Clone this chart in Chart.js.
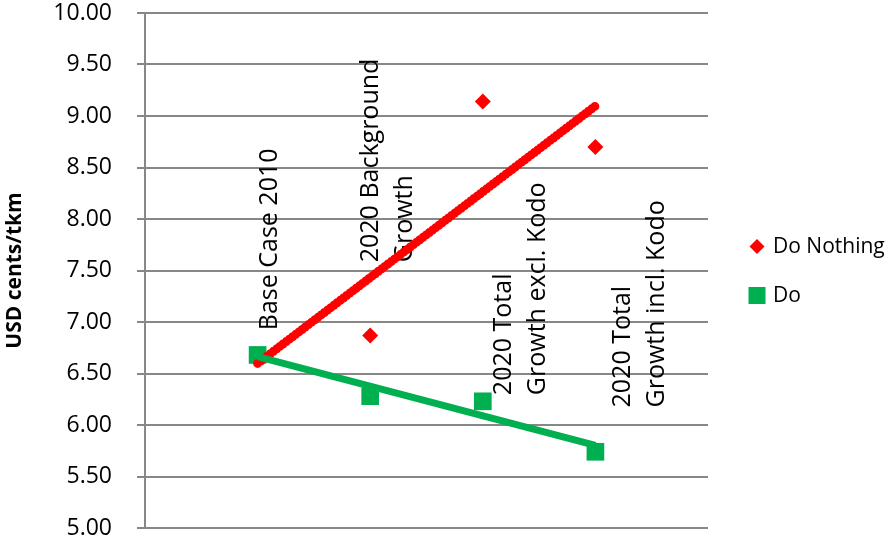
<!DOCTYPE html>
<html>
<head>
<meta charset="utf-8">
<script src="https://cdn.jsdelivr.net/npm/chart.js@4.4.0/dist/chart.umd.min.js"></script>
<style>
  html, body { margin: 0; padding: 0; background: #fff; }
  #wrap { width: 890px; height: 543px; }
</style>
</head>
<body>
<div id="wrap"><canvas id="costChart" width="890" height="543"></canvas></div>
<script>
// Scenario positions along x and their captions
const scenarioX = [1, 2, 3, 4];
const scenarioNames = [
    ['Base Case 2010'],
    ['2020 Background', 'Growth'],
    ['2020 Total', 'Growth excl. Kodo'],
    ['2020 Total', 'Growth incl. Kodo']
];
// where each caption starts (x / y in axis units)
const captionX = [1.17, 2.07, 3.25, 4.31];
const captionY = [6.92, 7.58, 6.29, 6.17];

// Cost per tonne-km, USD cents
const doNothing = [6.68, 6.87, 9.14, 8.70];
const doProject = [6.68, 6.28, 6.23, 5.74];

const yMin = 5, yMax = 10, yStep = 0.5;

const RED = '#ff0000';
const GREEN = '#00b050';
const GRID = '#878787';
const FONT = "'Open Sans', 'Noto Sans', sans-serif";

// least squares fit, returned as two end points
function trend(xs, ys) {
    const n = xs.length;
    const mx = xs.reduce((a, b) => a + b, 0) / n;
    const my = ys.reduce((a, b) => a + b, 0) / n;
    let sxy = 0, sxx = 0;
    xs.forEach((x, i) => { sxy += (x - mx) * (ys[i] - my); sxx += (x - mx) * (x - mx); });
    const slope = sxy / sxx;
    const x0 = xs[0], x1 = xs[n - 1];
    return [
        { x: x0, y: my + slope * (x0 - mx) },
        { x: x1, y: my + slope * (x1 - mx) }
    ];
}

const toPoints = ys => ys.map((y, i) => ({ x: scenarioX[i], y }));

// rotated scenario captions, drawn under the series
const captionPlugin = {
    id: 'captions',
    beforeDatasetsDraw(chart) {
        const { ctx, scales: { x, y } } = chart;
        ctx.save();
        ctx.font = '25px ' + FONT;
        ctx.fillStyle = '#000';
        ctx.textAlign = 'left';
        ctx.textBaseline = 'alphabetic';
        scenarioNames.forEach((lines, i) => {
            const px = x.getPixelForValue(captionX[i]);
            const py = y.getPixelForValue(captionY[i]);
            lines.forEach((line, j) => {
                ctx.save();
                ctx.translate(px + j * 34, py);
                ctx.rotate(-Math.PI / 2);
                ctx.fillText(line, 0, 0);
                ctx.restore();
            });
        });
        ctx.restore();
    }
};

// legend at the right of the plot
const legendPlugin = {
    id: 'sideLegend',
    afterDraw(chart) {
        const { ctx, chartArea } = chart;
        const items = [
            { text: 'Do Nothing', style: 'diamond', color: RED },
            { text: 'Do', style: 'square', color: GREEN }
        ];
        const mid = (chartArea.top + chartArea.bottom) / 2;
        const left = chartArea.right + 49;
        ctx.save();
        ctx.font = '21px ' + FONT;
        ctx.textBaseline = 'middle';
        items.forEach((it, i) => {
            const cy = mid - 24 + i * 49;
            const cx = left;
            ctx.fillStyle = it.color;
            ctx.beginPath();
            if (it.style === 'diamond') {
                ctx.moveTo(cx, cy - 7.5);
                ctx.lineTo(cx + 7.5, cy);
                ctx.lineTo(cx, cy + 7.5);
                ctx.lineTo(cx - 7.5, cy);
                ctx.closePath();
            } else {
                ctx.rect(cx - 8.5, cy - 8.5, 17, 17);
            }
            ctx.fill();
            ctx.fillStyle = '#000';
            ctx.fillText(it.text, cx + 16, cy + 1);
        });
        ctx.restore();
    }
};

new Chart(document.getElementById('costChart'), {
    type: 'scatter',
    data: {
        datasets: [
            {
                label: 'Do trend',
                data: trend(scenarioX, doProject),
                showLine: true,
                borderColor: GREEN,
                borderWidth: 7,
                pointRadius: 0,
                borderCapStyle: 'butt'
            },
            {
                label: 'Do Nothing trend',
                data: trend(scenarioX, doNothing),
                showLine: true,
                borderColor: RED,
                borderWidth: 9,
                borderDash: [0, 4],
                borderCapStyle: 'round',
                pointRadius: 0
            },
            {
                label: 'Do',
                data: toPoints(doProject),
                pointStyle: 'rect',
                pointRadius: 12.5,
                pointBackgroundColor: GREEN,
                pointBorderWidth: 0,
                borderColor: GREEN
            },
            {
                label: 'Do Nothing',
                data: toPoints(doNothing),
                pointStyle: 'rectRot',
                pointRadius: 8,
                pointBackgroundColor: RED,
                pointBorderWidth: 0,
                borderColor: RED
            }
        ]
    },
    options: {
        responsive: false,
        animation: false,
        events: [],
        layout: { padding: { top: 13, right: 182, bottom: 15, left: 0 } },
        plugins: {
            legend: { display: false },
            tooltip: { enabled: false }
        },
        scales: {
            x: {
                type: 'linear',
                min: 0,
                max: 5,
                display: false
            },
            y: {
                type: 'linear',
                min: yMin,
                max: yMax,
                afterFit(scale) {
                    scale.width = 145;
                    scale.paddingTop = 0;
                    scale.paddingBottom = 0;
                },
                ticks: {
                    stepSize: yStep,
                    color: '#000',
                    padding: 25,
                    font: { family: FONT, size: 23 },
                    callback: v => Number(v).toFixed(2)
                },
                grid: {
                    color: GRID,
                    lineWidth: 2,
                    tickLength: 8,
                    tickColor: GRID
                },
                border: { color: GRID, width: 2 },
                title: {
                    display: true,
                    text: 'USD cents/tkm',
                    color: '#000',
                    font: { family: FONT, size: 21, weight: 'bold' },
                    padding: { top: 2, bottom: 0 }
                }
            }
        }
    },
    plugins: [captionPlugin, legendPlugin]
});
</script>
</body>
</html>
